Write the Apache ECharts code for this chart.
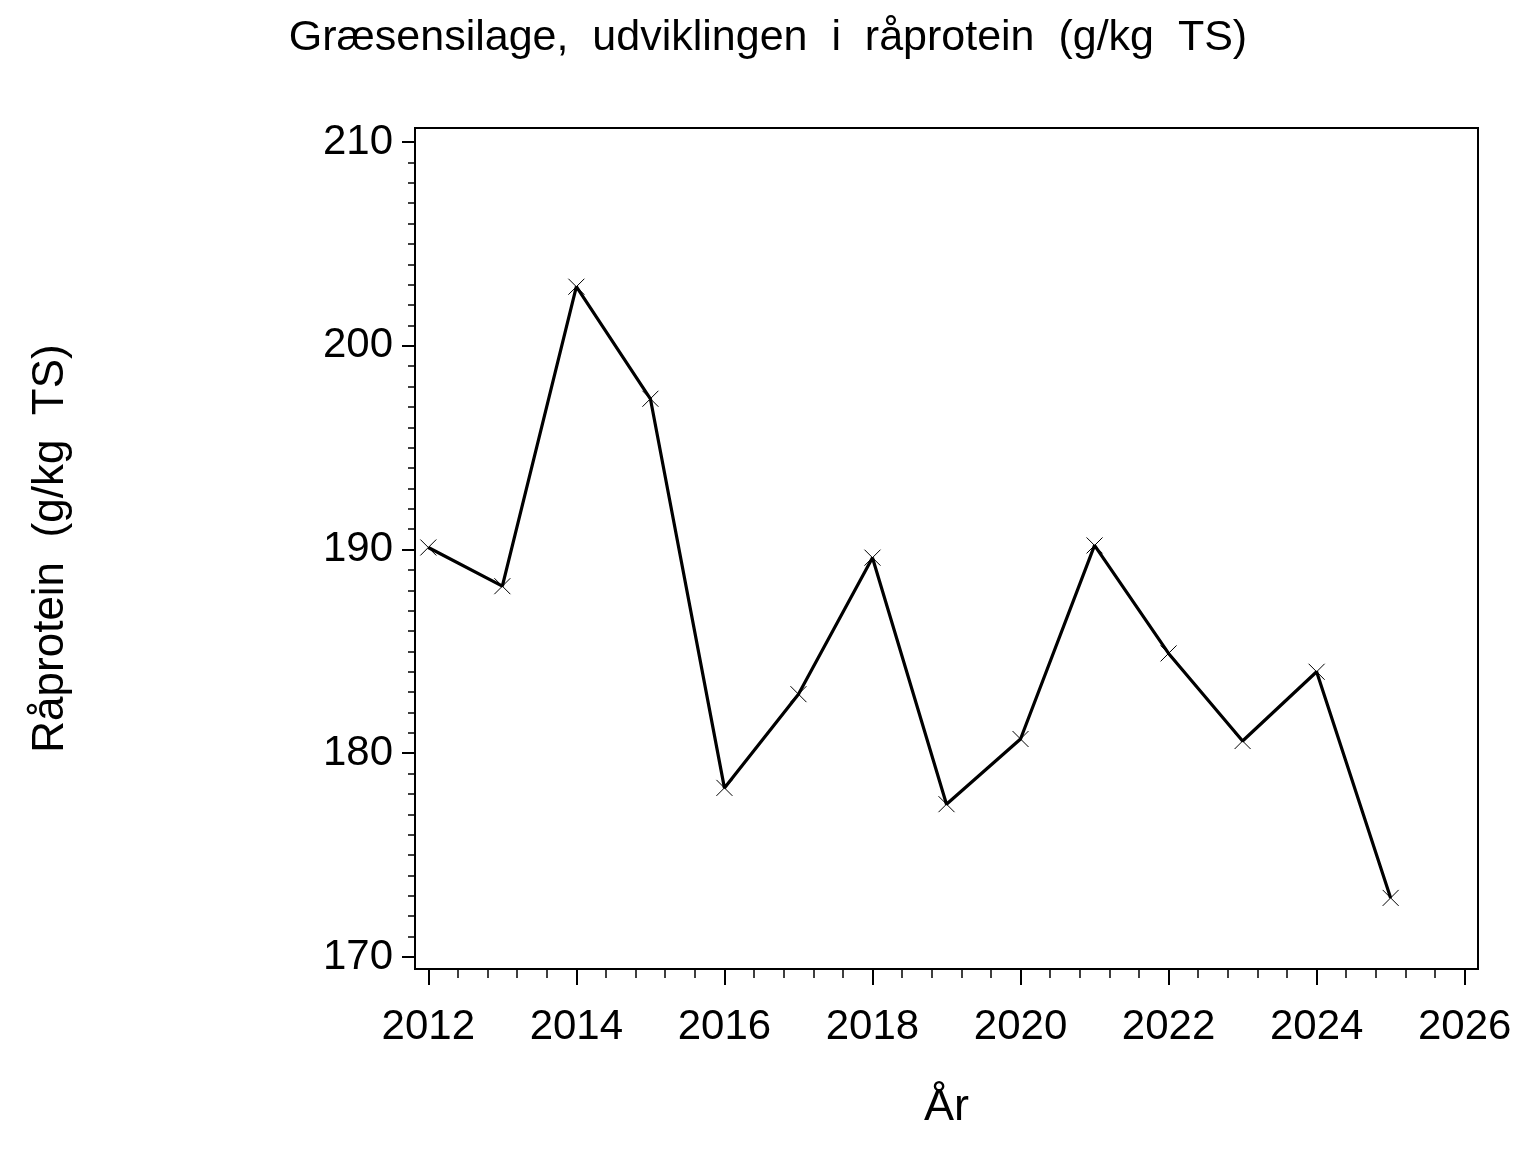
<!DOCTYPE html>
<html><head><meta charset="utf-8">
<script src="https://cdn.jsdelivr.net/npm/echarts@6/dist/echarts.min.js"></script>
<style>html,body{margin:0;padding:0;background:#fff}#c{width:1536px;height:1152px}</style>
</head><body><div id="c"></div>
<script>
const years = [2012,2013,2014,2015,2016,2017,2018,2019,2020,2021,2022,2023,2024,2025];
const values = [190.1,188.2,202.9,197.4,178.3,182.9,189.6,177.5,180.7,190.2,184.9,180.6,184.0,172.9];
const yTicks = [170,180,190,200,210];
const yMinorTicks = [];
for (let v = 170; v <= 210; v += 1) yMinorTicks.push(v);
const xTicks = [2012,2014,2016,2018,2020,2022,2024,2026];
const xMinorTicks = [];
for (let i = 0; i <= 35; i++) xMinorTicks.push(+(2012 + i*0.4).toFixed(1));

const FONT = '"Liberation Sans", Arial, sans-serif';
const yMin = 169.41, yMax = 210.69, xMin = 2011.82, xMax = 2026.18;

const chart = echarts.init(document.getElementById('c'), null, {renderer:'canvas'});
chart.setOption({
  backgroundColor:'#fff',
  animation:false,
  title:{text:'Græsensilage,  udviklingen  i  råprotein  (g/kg  TS)', left:'center', top:12,
    textStyle:{fontFamily:FONT, fontSize:43, fontWeight:'normal', color:'#000'}},
  grid:{left:415, top:128, right:58, bottom:183, show:true, borderColor:'#000', borderWidth:2},
  xAxis:[{
    type:'value', min:xMin, max:xMax,
    name:'År', nameLocation:'middle', nameGap:116,
    nameTextStyle:{fontFamily:FONT, fontSize:45, color:'#000'},
    axisLine:{show:true, lineStyle:{color:'#000', width:2}},
    axisTick:{show:true, length:16, customValues:xTicks, lineStyle:{color:'#000', width:2}},
    axisLabel:{customValues:xTicks, margin:37, fontFamily:FONT, fontSize:42, color:'#000',
      formatter:(v)=>String(Math.round(v))},
    splitLine:{show:false}
  },{
    type:'value', min:xMin, max:xMax, position:'bottom',
    axisLine:{show:false},
    axisTick:{show:true, length:9, customValues:xMinorTicks, lineStyle:{color:'#000', width:1.5}},
    axisLabel:{show:false, customValues:xMinorTicks},
    splitLine:{show:false}
  }],
  yAxis:[{
    type:'value', min:yMin, max:yMax,
    name:'Råprotein  (g/kg  TS)', nameLocation:'middle', nameGap:342, nameRotate:90,
    nameTextStyle:{fontFamily:FONT, fontSize:44, color:'#000'},
    axisLine:{show:true, lineStyle:{color:'#000', width:2}},
    axisTick:{show:true, length:13, customValues:yTicks, lineStyle:{color:'#000', width:2}},
    axisLabel:{customValues:yTicks, margin:22, fontFamily:FONT, fontSize:42, color:'#000'},
    splitLine:{show:false}
  },{
    type:'value', min:yMin, max:yMax, position:'left',
    axisLine:{show:false},
    axisTick:{show:true, length:7, customValues:yMinorTicks, lineStyle:{color:'#000', width:1.5}},
    axisLabel:{show:false, customValues:yMinorTicks},
    splitLine:{show:false}
  }],
  series:[{
    type:'line', xAxisIndex:0, yAxisIndex:0,
    data: years.map((y,i)=>[y, values[i]]),
    lineStyle:{color:'#000', width:3.2},
    symbol:'path://M0,0L10,10M10,0L0,10', symbolSize:16, showAllSymbol:true,
    itemStyle:{color:'none', borderColor:'#000', borderWidth:1},
    z:5
  }]
});
</script></body></html>
